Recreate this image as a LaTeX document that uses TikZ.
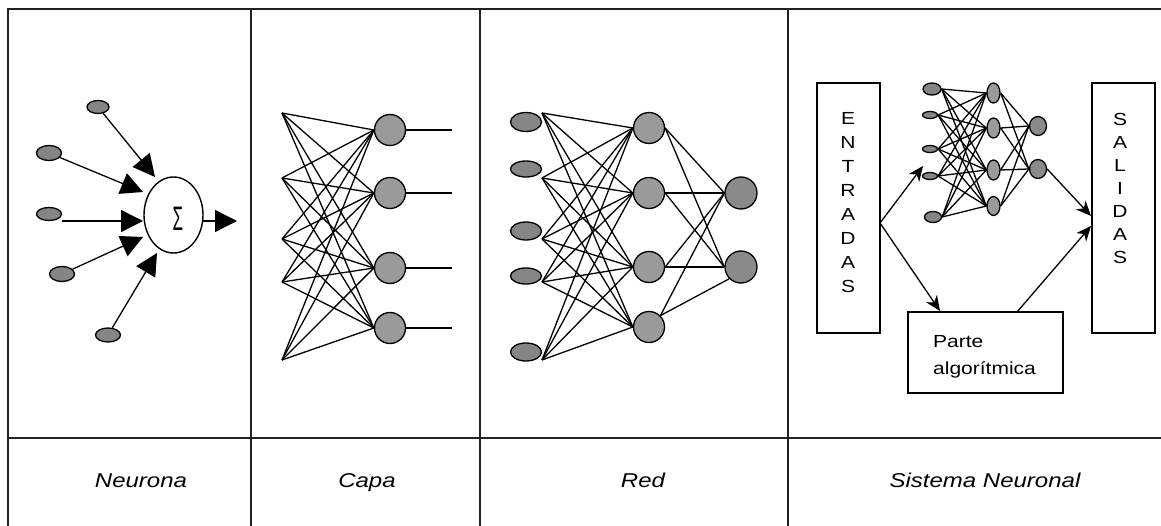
\documentclass[tikz,border=0pt]{standalone}
\usepackage{graphicx}
\usepackage{fontspec}
\setmainfont{Liberation Sans}
\newfontfamily\wsans[FakeStretch=1.2]{Liberation Sans}
\usetikzlibrary{shapes.geometric,arrows.meta}
\definecolor{gin}{HTML}{858585}
\definecolor{ghid}{HTML}{9A9A9A}
\definecolor{gout}{HTML}{8A8A8A}
\definecolor{rulec}{HTML}{222222}
\begin{document}
\begin{tikzpicture}[x=1pt,y=-1pt,
 tab/.style={line width=1.8pt, draw=rulec},
 conn/.style={line width=1.3pt},
 bigarrow/.style={conn,-{Triangle[length=22pt,width=22pt]}},
 smallarrow/.style={conn,-{Stealth[length=15pt,width=13pt,inset=4.5pt]}},
 oval/.style={ellipse,draw,line width=1.3pt,fill=gin,inner sep=0pt},
 unit/.style={circle,draw,line width=1.3pt,fill=ghid,inner sep=0pt,minimum size=31pt},
 outunit/.style={circle,draw,line width=1.3pt,fill=gout,inner sep=0pt,minimum size=32pt},
 box/.style={draw,line width=1.3pt,rectangle,inner sep=0pt},
 caption/.style={font=\wsans\itshape\fontsize{20}{24}\selectfont,anchor=base,inner sep=0pt},
 letters/.style={font=\wsans\fontsize{17.5}{#1}\selectfont,align=center,inner sep=0pt}
]
\useasboundingbox (0,0) rectangle (1161,526);
\clip (0,0) rectangle (1161,526);

% ---------- table ----------
\draw[tab] (8,540) -- (8,9) -- (1170,9);
\draw[tab] (8,438) -- (1170,438);
\foreach \x in {251,480,788} \draw[tab] (\x,9) -- (\x,540);

% ---------- Neurona ----------
\node[oval,minimum width=22pt,minimum height=13pt] (e1) at (98,107) {};
\node[oval,minimum width=25pt,minimum height=15pt] (e2) at (49,153) {};
\node[oval,minimum width=25pt,minimum height=13pt] (e3) at (49,214) {};
\node[oval,minimum width=25pt,minimum height=15pt] (e4) at (62,274) {};
\node[oval,minimum width=25pt,minimum height=14pt] (e5) at (108,335) {};
\node[ellipse,draw,line width=1.4pt,minimum width=59pt,minimum height=76pt,inner sep=0pt] (sum) at (173.5,215) {};
\node[inner sep=0pt] (sigma) at (178,219) {\scalebox{0.5}[1]{\fontsize{34}{34}\selectfont Σ}};
\coordinate (t1) at (155,177);
\coordinate (t2) at (143,192);
\coordinate (s3) at (61.5,221);
\coordinate (t3) at (143,221);
\coordinate (t4) at (143,237);
\coordinate (t5) at (157,253);
\coordinate (so) at (203,221);
\coordinate (to) at (237,221);
\draw[bigarrow] (e1) -- (t1);
\draw[bigarrow] (e2) -- (t2);
\draw[bigarrow] (s3) -- (t3);
\draw[bigarrow] (e4) -- (t4);
\draw[bigarrow] (e5) -- (t5);
\draw[bigarrow] (so) -- (to);

% ---------- Capa ----------
\coordinate (p1) at (282,113);
\coordinate (p2) at (282,178);
\coordinate (p3) at (282,239);
\coordinate (p4) at (282,282);
\coordinate (p5) at (282,360);
\node[unit] (c1) at (390,130) {};
\node[unit] (c2) at (390,193) {};
\node[unit] (c3) at (390,268) {};
\node[unit] (c4) at (390,328) {};
\foreach \i in {1,...,5}
  \foreach \j in {1,...,4}
    \draw[conn] (p\i) -- (c\j.west);
\foreach \j/\y in {1/130,2/193,3/268,4/328} {
  \coordinate (co\j) at (452,\y);
  \draw[conn] (c\j.east) -- (co\j);
}

% ---------- Red ----------
\node[oval,minimum width=31pt,minimum height=19pt] (i1) at (526,122) {};
\node[oval,minimum width=31pt,minimum height=16pt] (i2) at (526,169) {};
\node[oval,minimum width=31pt,minimum height=18pt] (i3) at (526,231) {};
\node[oval,minimum width=31pt,minimum height=16pt] (i4) at (526,276) {};
\node[oval,minimum width=31pt,minimum height=18pt] (i5) at (526,352) {};
\coordinate (q1) at (542,113);
\coordinate (q2) at (542,178);
\coordinate (q3) at (542,239);
\coordinate (q4) at (542,282);
\coordinate (q5) at (542,360);
\node[unit] (h1) at (649,128) {};
\node[unit] (h2) at (649,193) {};
\node[unit] (h3) at (649,267) {};
\node[unit] (h4) at (649,327) {};
\node[outunit] (o1) at (741,193) {};
\node[outunit] (o2) at (741,267) {};
\foreach \i in {1,...,5}
  \foreach \j in {1,...,4}
    \draw[conn] (q\i) -- (h\j.west);
\foreach \i in {1,2,3}
  \foreach \j in {1,2}
    \draw[conn] (h\i.east) -- (o\j.west);
\draw[conn] (h4.north east) -- (o1.west);
\draw[conn] (h4.north east) -- (o2.south west);

% ---------- Sistema Neuronal ----------
\node[box,minimum width=63pt,minimum height=250pt] (ent) at (848.5,208) {};
\node[letters=23.9] (entl) at (848,202.5) {E\\N\\T\\R\\A\\D\\A\\S};
\node[box,minimum width=63pt,minimum height=250pt] (sal) at (1123.5,208) {};
\node[letters=22.9] (sall) at (1120,188.5) {S\\A\\L\\I\\D\\A\\S};
\node[box,minimum width=155pt,minimum height=81pt] (parte) at (985.5,352.5) {};
\node[font=\wsans\fontsize{17.5}{27}\selectfont,align=left,anchor=north west,inner sep=0pt] (partel) at (933,335.5) {Parte\\algorítmica};

\node[oval,minimum width=18pt,minimum height=12pt] (m1) at (932,89) {};
\node[oval,minimum width=15pt,minimum height=7pt] (m2) at (930,115) {};
\node[oval,minimum width=15pt,minimum height=7pt] (m3) at (930,149) {};
\node[oval,minimum width=15pt,minimum height=7pt] (m4) at (930,176) {};
\node[oval,minimum width=17pt,minimum height=11pt] (m5) at (933,217) {};
\node[oval,fill=ghid,minimum width=13pt,minimum height=20pt] (n1) at (993.5,93) {};
\node[oval,fill=ghid,minimum width=13pt,minimum height=20pt] (n2) at (993.5,128) {};
\node[oval,fill=ghid,minimum width=13pt,minimum height=20pt] (n3) at (993.5,170) {};
\node[oval,fill=ghid,minimum width=13pt,minimum height=19pt] (n4) at (993.5,206) {};
\node[oval,fill=gout,minimum width=17pt,minimum height=19pt] (r1) at (1038,126) {};
\node[oval,fill=gout,minimum width=17pt,minimum height=19pt] (r2) at (1038,169) {};
\foreach \i in {1,...,5}
  \foreach \j in {1,...,4}
    \draw[conn] (m\i.east) -- (n\j.west);
\foreach \i in {1,...,4}
  \foreach \j in {1,2}
    \draw[conn] (n\i.east) -- (r\j.west);

\coordinate (split) at (880,223);
\coordinate (a1t) at (923,166);
\coordinate (a2t) at (940,311);
\coordinate (a3s) at (1017,312);
\coordinate (a3t) at (1091,226);
\coordinate (a4t) at (1091,216);
\draw[smallarrow] (split) -- (a1t);
\draw[smallarrow] (split) -- (a2t);
\draw[smallarrow] (a3s) -- (a3t);
\draw[smallarrow] (r2.east) -- (a4t);

% ---------- captions ----------
\node[caption] (cap1) at (141,487) {Neurona};
\node[caption] (cap2) at (367,487) {Capa};
\node[caption] (cap3) at (643,487) {Red};
\node[caption] (cap4) at (985,487) {Sistema Neuronal};
\end{tikzpicture}
\end{document}
